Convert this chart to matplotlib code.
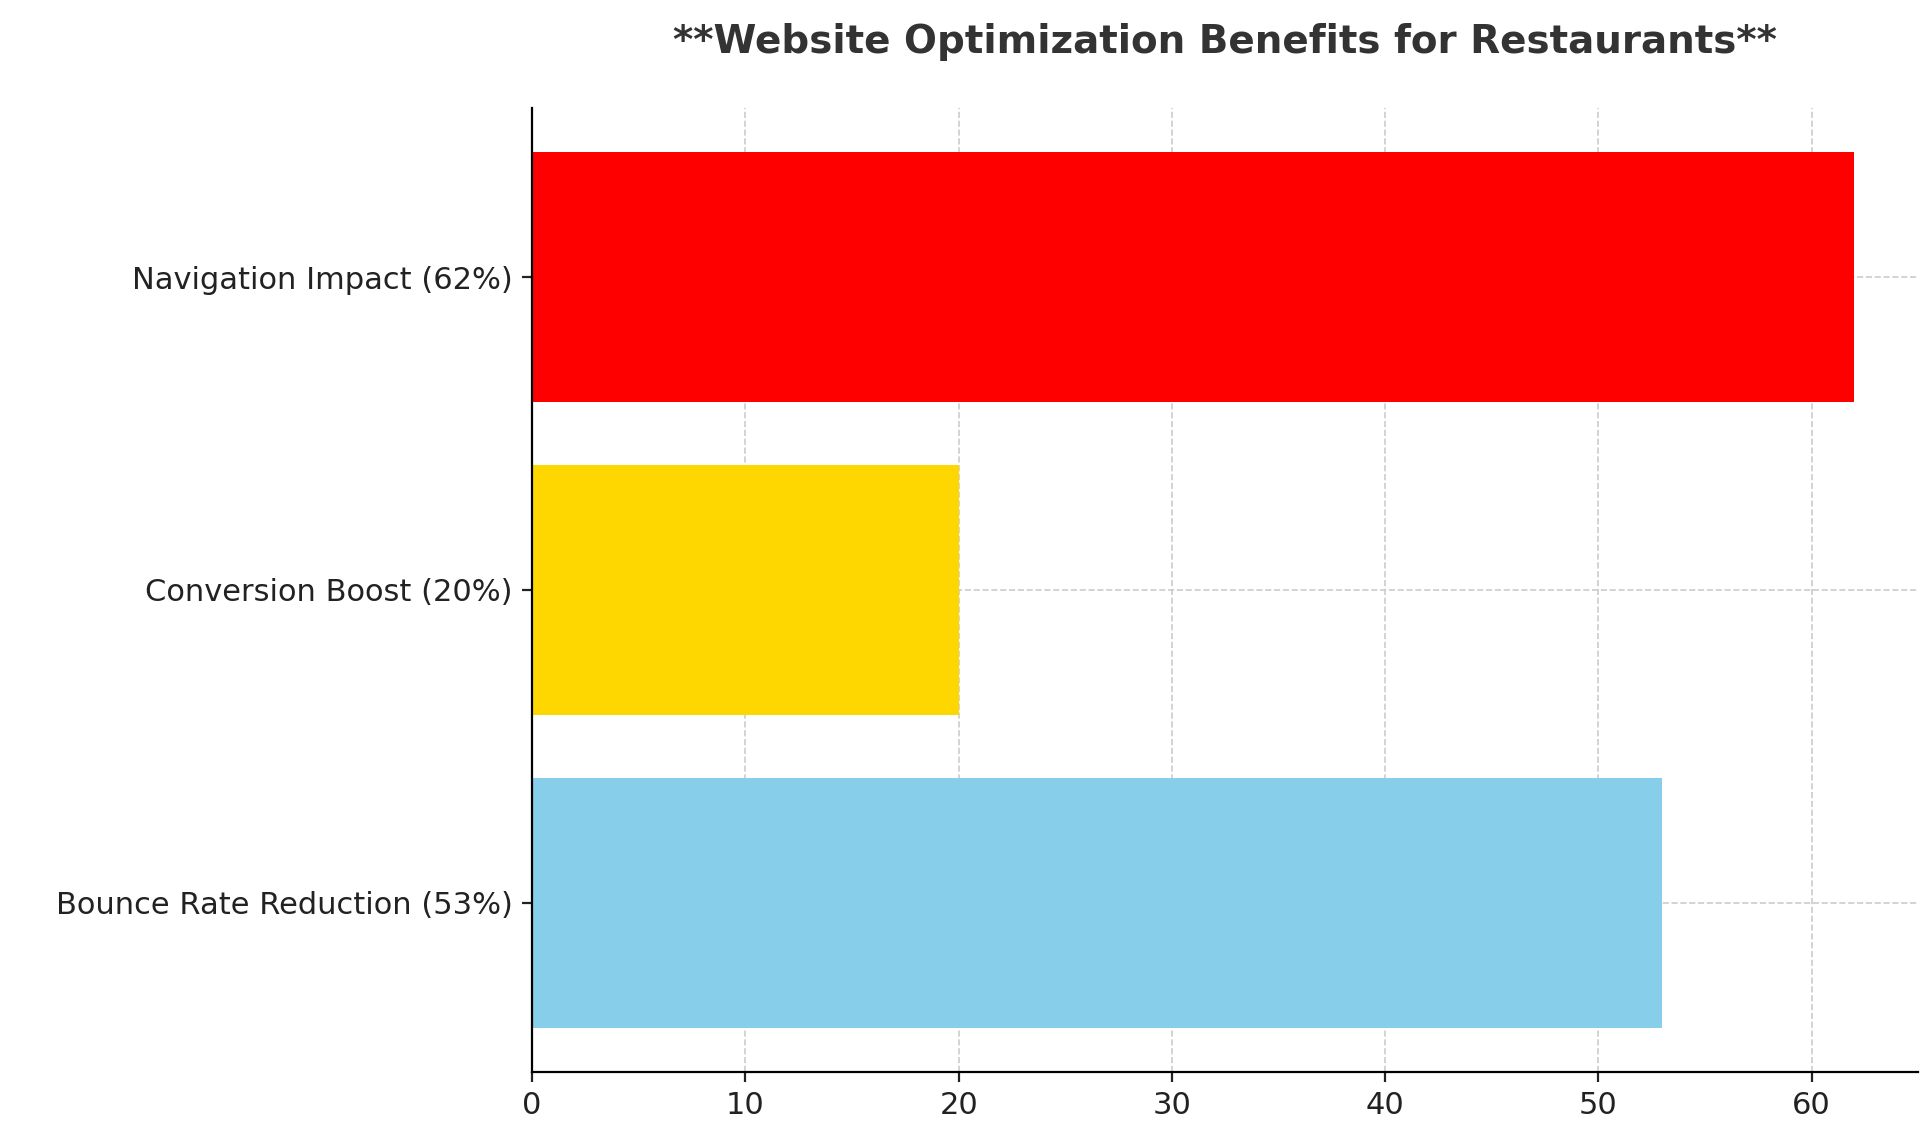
import matplotlib.pyplot as plt

labels = ['Bounce Rate Reduction (53%)', 'Conversion Boost (20%)', 'Navigation Impact (62%)']
values = [53, 20, 62]
colors = ['#87CEEB', '#FFD700', '#FF0000']

fig, ax = plt.subplots(figsize=(9.64, 5.64), dpi=200)
ax.barh(labels, values, color=colors, height=0.8)
ax.set_xlim(0, 65)
ax.grid(True, linestyle='--', color='#cccccc', linewidth=0.6)
ax.set_axisbelow(True)
ax.spines['top'].set_visible(False)
ax.spines['right'].set_visible(False)
ax.tick_params(labelsize=11, colors='#222222')
ax.set_title('**Website Optimization Benefits for Restaurants**', fontsize=14,
             fontweight='bold', color='#333333', pad=20)
plt.subplots_adjust(left=0.276, right=0.995, top=0.904, bottom=0.05)
plt.savefig('out.png')
